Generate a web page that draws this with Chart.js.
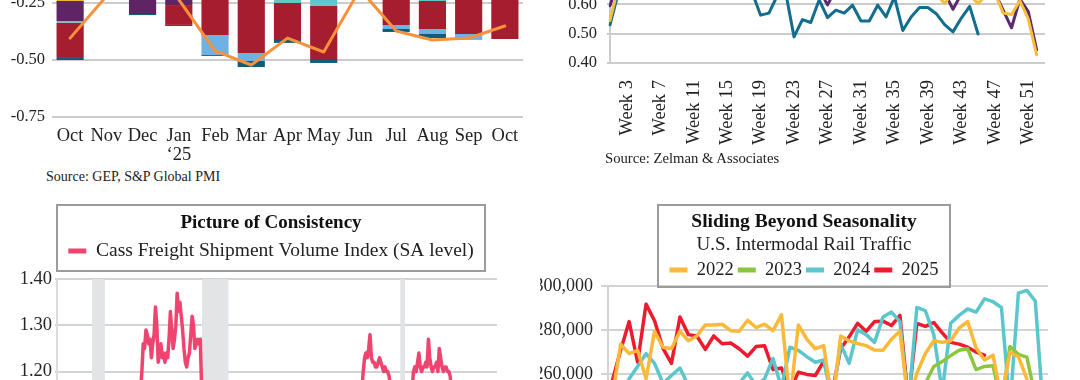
<!DOCTYPE html>
<html><head><meta charset="utf-8"><title>Supply chain and freight charts</title>
<script src="https://cdn.jsdelivr.net/npm/chart.js@4.4.1/dist/chart.umd.min.js"></script>
<style>
html,body{margin:0;padding:0;background:#fff}
body{width:1080px;height:380px;position:relative;overflow:hidden}
.panel{position:absolute;overflow:hidden}
.panel canvas{position:absolute}
.src{position:absolute;font-family:"Liberation Serif","Times New Roman",serif;color:#222;white-space:nowrap;line-height:1}
</style></head><body>
<div class="panel" style="left:0;top:0;width:540px;height:190px"><canvas id="c1" width="540" height="297" style="left:0;top:-130px"></canvas></div>
<div class="panel" style="left:540px;top:0;width:540px;height:190px"><canvas id="c2" width="540" height="233" style="left:0;top:-80px"></canvas></div>
<div class="panel" style="left:0;top:190px;width:540px;height:190px"><canvas id="c3" width="542" height="380" style="left:0;top:0"></canvas></div>
<div class="panel" style="left:540px;top:190px;width:540px;height:190px"><canvas id="c4" width="608" height="380" style="left:-40px;top:0"></canvas></div>
<div class="src" style="left:46px;top:170px;font-size:14px">Source: GEP, S&amp;P Global PMI</div>
<div class="src" style="left:605px;top:150.5px;font-size:14.7px">Source: Zelman &amp; Associates</div>
<script>
// ---------- Panel 1: GEP supply chain volatility (stacked contributions + index) ----------
const gscMonths = ['Oct','Nov','Dec',['Jan','\u201825'],'Feb','Mar','Apr','May','Jun','Jul','Aug','Sep','Oct'];
const gscIndex  = [-0.404,-0.22,-0.14,-0.235,-0.46,-0.522,-0.404,-0.465,-0.19,-0.373,-0.412,-0.404,-0.351];
const segOther  = [-0.241,-0.05,-0.10,-0.06,-0.03,-0.04,-0.05,-0.05,-0.05,-0.03,-0.03,-0.04,-0.04];
const segAsia   = [-0.088,-0.12,-0.198,-0.199,-0.05,-0.06,-0.10,-0.12,-0.05,-0.04,-0.05,-0.06,-0.05];
const segUK     = [-0.007,-0.015,0,0,0,0,-0.10,-0.093,-0.03,-0.02,-0.161,-0.03,-0.03];
const segEurope = [-0.155,-0.02,0,-0.087,-0.31,-0.369,-0.162,-0.237,-0.06,-0.256,-0.123,-0.256,-0.288];
const segNAm    = [0,0,0,0,-0.088,-0.035,0,0,0,-0.018,-0.022,-0.026,0];
const segRest   = [-0.009,-0.005,-0.005,-0.005,-0.004,-0.027,-0.013,-0.013,-0.01,-0.013,-0.018,0,0];

// ---------- Panel 2: Zelman weekly series ----------
const zelWeeks = ['Week 1','Week 2','Week 3','Week 4','Week 5','Week 6','Week 7','Week 8','Week 9','Week 10',
 'Week 11','Week 12','Week 13','Week 14','Week 15','Week 16','Week 17','Week 18','Week 19','Week 20',
 'Week 21','Week 22','Week 23','Week 24','Week 25','Week 26','Week 27','Week 28','Week 29','Week 30',
 'Week 31','Week 32','Week 33','Week 34','Week 35','Week 36','Week 37','Week 38','Week 39','Week 40',
 'Week 41','Week 42','Week 43','Week 44','Week 45','Week 46','Week 47','Week 48','Week 49','Week 50',
 'Week 51','Week 52','Week 53'];
const zel2023 = [0.545,0.66,0.70,0.72,0.71,0.73,0.74,0.72,0.73,0.71,0.72,0.70,0.71,0.69,0.70,0.68,0.69,0.67,0.68,0.66,
 0.67,0.65,0.66,0.64,0.65,0.66,0.64,0.65,0.66,0.64,0.65,0.66,0.64,0.65,0.66,0.64,0.65,0.64,0.63,0.635,
 0.603,0.64,0.65,0.63,0.603,0.63,0.64,0.57,0.565,0.612,0.55,0.428,null];
const zel2024 = [0.595,0.68,0.72,0.74,0.73,0.75,0.74,0.76,0.74,0.73,0.74,0.72,0.73,0.71,0.72,0.70,0.69,0.70,0.68,0.67,
 0.68,0.66,0.65,0.66,0.64,0.65,0.598,0.65,0.66,0.64,0.65,0.66,0.65,0.64,0.66,0.65,0.64,0.65,0.64,0.63,
 0.64,0.583,0.635,0.64,0.65,0.64,0.64,0.58,0.52,0.618,0.575,0.445,null];
const zel2025 = [0.53,0.64,0.68,0.70,0.69,0.72,0.71,0.73,0.70,0.69,0.71,0.70,0.68,0.69,0.67,0.66,0.65,0.64,0.563,0.57,
 0.63,0.64,0.489,0.548,0.538,0.615,0.555,0.58,0.57,0.597,0.543,0.543,0.597,0.557,0.625,0.511,0.557,0.589,0.589,0.568,
 0.531,0.506,0.553,0.593,0.499,null,null,null,null,null,null,null,null];

// ---------- Panel 3: Cass Freight shipments (monthly, Jan 1999 - Dec 2025) ----------
const cassYears = [1999,2000,2001,2002,2003,2004,2005,2006,2007,2008,2009,2010,2011,2012,2013,2014,2015,2016,2017,2018,2019,2020,2021,2022,2023,2024,2025];
const monthAbbr = ['Jan','Feb','Mar','Apr','May','Jun','Jul','Aug','Sep','Oct','Nov','Dec'];
const cassShipments = [
 1.06,1.05,1.08,1.07,1.09,1.08,1.10,1.09,1.11,1.10,1.12,1.11,
 1.12,1.13,1.11,1.14,1.12,1.13,1.10,1.11,1.09,1.08,1.07,1.05,
 1.06,1.04,1.03,1.05,1.02,1.04,1.01,1.03,0.99,1.02,1.00,1.01,
 1.02,1.04,1.03,1.06,1.05,1.07,1.04,1.06,1.08,1.05,1.07,1.06,
 1.07,1.05,1.08,1.09,1.07,1.10,1.09,1.11,1.12,1.14,1.13,1.15,
 1.15,1.16,1.20,1.26,1.25,1.29,1.28,1.26,1.27,1.23,1.26,1.28,
 1.34,1.30,1.22,1.24,1.26,1.23,1.24,1.22,1.24,1.23,1.27,1.33,
 1.29,1.25,1.27,1.30,1.37,1.33,1.35,1.32,1.29,1.25,1.22,1.21,
 1.23,1.24,1.28,1.32,1.30,1.25,1.26,1.27,1.26,1.27,1.16,1.13,
 1.15,1.12,1.14,1.13,1.11,1.12,1.10,1.09,1.06,1.04,1.00,0.97,
 0.95,0.93,0.92,0.91,0.93,0.92,0.94,0.95,0.97,0.96,0.98,0.99,
 1.00,1.02,1.04,1.05,1.06,1.07,1.05,1.06,1.08,1.07,1.06,1.08,
 1.07,1.06,1.09,1.08,1.10,1.09,1.08,1.10,1.11,1.09,1.10,1.11,
 1.09,1.10,1.08,1.11,1.10,1.09,1.08,1.10,1.09,1.11,1.10,1.09,
 1.08,1.10,1.12,1.11,1.13,1.12,1.14,1.13,1.12,1.14,1.15,1.13,
 1.12,1.14,1.15,1.14,1.16,1.15,1.14,1.16,1.15,1.16,1.15,1.14,
 1.14,1.12,1.13,1.11,1.12,1.10,1.11,1.09,1.10,1.08,1.07,1.06,
 1.05,1.07,1.06,1.08,1.07,1.06,1.08,1.07,1.09,1.08,1.10,1.11,
 1.10,1.12,1.11,1.13,1.12,1.14,1.13,1.15,1.16,1.20,1.23,1.24,
 1.23,1.25,1.28,1.23,1.22,1.22,1.21,1.21,1.22,1.23,1.22,1.21,
 1.20,1.21,1.20,1.20,1.19,1.17,1.16,1.15,1.14,1.15,1.13,1.12,
 1.11,1.10,1.02,0.89,0.92,0.99,1.05,1.09,1.13,1.16,1.20,1.21,
 1.20,1.22,1.24,1.21,1.20,1.21,1.21,1.22,1.21,1.27,1.23,1.21,
 1.20,1.21,1.21,1.22,1.20,1.25,1.23,1.21,1.20,1.21,1.21,1.20,
 1.20,1.19,1.16,1.14,1.13,1.12,1.11,1.12,1.10,1.11,1.09,1.08,
 1.07,1.05,1.08,1.06,1.07,1.05,1.06,1.04,1.05,1.03,1.04,1.02,
 1.01,1.00,1.03,1.01,0.99,1.00,0.98,0.99,0.97,0.96,null,null];
const recessions = [['Mar 2001','Nov 2001'],['Dec 2007','Jun 2009'],['Feb 2020','Apr 2020']];

// ---------- Panel 4: U.S. intermodal rail traffic (weekly) ----------
const rail2022 = [250000,273700,269400,270900,258000,279500,272300,271600,279500,275200,277400,282400,282400,282700,279800,279500,284500,281200,282700,279800,
 287000,248000,282400,275900,271600,273000,246000,277400,275200,274000,273000,271000,270900,275900,279500,247000,260500,269400,275200,274500,
 275200,281000,283900,272000,266500,268700,249000,270000,268000,258000,242000,238000];
const rail2023 = [238000,245000,248000,244000,250000,247000,243000,246000,249000,245000,247000,244000,242000,245000,243000,240000,244000,241000,243000,240000,
 242000,232000,241000,243000,240000,242000,230000,244000,246000,248000,247000,250000,249000,251000,253000,238000,252000,256000,263600,265800,
 268500,270900,271600,262200,263600,263900,247000,272600,269100,267800,250000,243000];
const rail2024 = [245000,252000,258000,263600,269400,265000,256000,259500,262900,255000,250000,253000,249000,252000,254000,256000,260700,255000,258000,267200,
 254000,272300,270900,268000,265500,266500,248000,273700,265000,280200,278000,274500,286000,288200,283900,246000,290300,288900,278000,252000,
 283100,286700,289600,288200,294200,292900,290300,245000,296800,298000,293200,240000];
const rail2025 = [257000,271000,283900,265500,291800,284300,271800,265000,286000,278000,277400,271300,277400,273900,274200,271600,268300,272600,273000,262200,
 262900,253000,261000,260000,259500,266000,252000,271600,277000,283100,279500,283900,284100,282100,286700,248000,283100,281700,283500,278800,
 274500,273700,272300,270100,268700,null,null,null,null,null,null,null];

// ---------- shared setup ----------
Chart.defaults.font.family = '"Liberation Serif", "Times New Roman", serif';
Chart.defaults.color = '#262626';
Chart.defaults.animation = false;
Chart.defaults.plugins.tooltip.enabled = false;

const noStroke = (chart) => Chart.defaults.plugins.legend.labels.generateLabels(chart).map(l => Object.assign(l, {lineWidth: 0}));
const framePlugin = {
  id: 'frame',
  afterDraw(chart, args, o) {
    if (!o || !o.display) return;
    const ctx = chart.ctx;
    ctx.save();
    ctx.strokeStyle = o.color; ctx.lineWidth = o.width;
    ctx.strokeRect(o.left, o.top, o.right - o.left, o.bottom - o.top);
    ctx.restore();
  }
};
const lineStyle = {pointRadius: 0, tension: 0, borderJoinStyle: 'round', borderCapStyle: 'round', fill: false};
const spacerAxis = (w) => ({position: 'right', display: true, grid: {display: false, drawTicks: false}, border: {display: false}, ticks: {display: false}, afterFit(s) { s.width = w; }});

// ---------- Chart 1 ----------
new Chart(document.getElementById('c1'), {
  type: 'bar',
  data: {
    labels: gscMonths,
    datasets: [
      Object.assign({type: 'line', label: 'Global Supply Chain Volatility Index', data: gscIndex, borderColor: '#f7923b', backgroundColor: '#f7923b', borderWidth: 3, stack: 'idx', order: 0}, lineStyle),
      {label: 'Other', data: segOther, backgroundColor: '#f3b43a', stack: 'reg', order: 1},
      {label: 'Asia', data: segAsia, backgroundColor: '#5e2466', stack: 'reg', order: 1},
      {label: 'UK', data: segUK, backgroundColor: '#62c6c9', stack: 'reg', order: 1},
      {label: 'Europe', data: segEurope, backgroundColor: '#a51d2f', stack: 'reg', order: 1},
      {label: 'North America', data: segNAm, backgroundColor: '#6fb1e3', stack: 'reg', order: 1},
      {label: 'Rest of World', data: segRest, backgroundColor: '#0e5c7c', stack: 'reg', order: 1}
    ]
  },
  options: {
    responsive: false, animation: false,
    layout: {padding: {top: 19, left: 0, right: 17, bottom: 0}},
    datasets: {bar: {categoryPercentage: 0.75, barPercentage: 1, borderWidth: 0}},
    plugins: {legend: {display: false}},
    scales: {
      x: {stacked: true, offset: true, grid: {display: false}, border: {display: false},
          ticks: {font: {size: 18.5, lineHeight: 1}, padding: 2, color: '#222', maxRotation: 0, autoSkip: false},
          afterFit(s) { s.height = 50; }},
      y: {stacked: true, min: -0.75, max: 0.25,
          ticks: {stepSize: 0.25, font: {size: 16.5}, padding: 7, color: '#222', callback: v => v.toFixed(2)},
          grid: {color: '#cccccc', lineWidth: 2, drawTicks: false}, border: {display: false},
          afterFit(s) { s.width = 52; }}
    }
  }
});

// ---------- Chart 2 ----------
new Chart(document.getElementById('c2'), {
  type: 'line',
  data: {
    labels: zelWeeks,
    datasets: [
      Object.assign({label: '2023', data: zel2023, borderColor: '#f9bd3d', backgroundColor: '#f9bd3d', borderWidth: 3}, lineStyle),
      Object.assign({label: '2024', data: zel2024, borderColor: '#5a2a6c', backgroundColor: '#5a2a6c', borderWidth: 3}, lineStyle),
      Object.assign({label: '2025', data: zel2025, borderColor: '#136d8c', backgroundColor: '#136d8c', borderWidth: 3}, lineStyle)
    ]
  },
  options: {
    responsive: false, animation: false,
    layout: {padding: {top: 25.6, left: 0, right: 35, bottom: 0}},
    plugins: {legend: {display: false}},
    scales: {
      x: {offset: false, grid: {display: false}, border: {display: false},
          ticks: {autoSkip: false, maxRotation: 90, minRotation: 90, font: {size: 18.5}, padding: 9, color: '#222',
                  callback: function(v, i) { return (i - 2) % 4 === 0 ? this.getLabelForValue(v) : ''; }},
          afterFit(s) { s.height = 90; }},
      y: {min: 0.4, max: 0.8,
          ticks: {stepSize: 0.1, font: {size: 16.5}, padding: 10, color: '#222', callback: v => v.toFixed(2)},
          grid: {color: '#cccccc', lineWidth: 2, drawTicks: true, tickLength: 3},
          border: {display: true, color: '#cccccc', width: 2},
          afterFit(s) { s.width = 70; }}
    }
  }
});

// ---------- Chart 3 ----------
const cassLabels = cassYears.flatMap(y => monthAbbr.map(m => m + ' ' + y));
const cassTop = 1.4;
const bandData = cassLabels.map((lab, i) => recessions.some(r => i >= cassLabels.indexOf(r[0]) && i <= cassLabels.indexOf(r[1])) ? cassTop : null);
new Chart(document.getElementById('c3'), {
  type: 'line',
  data: {
    labels: cassLabels,
    datasets: [
      Object.assign({label: 'Cass Freight Shipment Volume Index (SA level)', data: cassShipments, borderColor: '#ef4470', backgroundColor: '#ef4470', borderWidth: 3.5, order: 0}, lineStyle),
      {type: 'bar', label: 'Recession', data: bandData, backgroundColor: '#e3e4e6', borderWidth: 0, barPercentage: 1, categoryPercentage: 1, order: 1}
    ]
  },
  plugins: [framePlugin],
  options: {
    responsive: false, animation: false,
    layout: {padding: {top: 15, left: 0, right: 0, bottom: 3.6}},
    plugins: {
      title: {display: true, text: 'Picture of Consistency', color: '#111', font: {size: 19, weight: 'bold', lineHeight: 1.2}, padding: {top: 6.6, bottom: 2.85}},
      subtitle: {display: true, text: ' ', weight: 500, font: {size: 1, lineHeight: 1}, padding: {top: 7.55, bottom: 0}},
      legend: {display: true, labels: {font: {size: 19.5}, color: '#222', boxWidth: 18, boxHeight: 5, padding: 4, generateLabels: noStroke, filter: it => it.datasetIndex === 0}},
      frame: {display: true, left: 57, top: 15, right: 485, bottom: 81, color: '#9c9c9c', width: 2}
    },
    scales: {
      x: {type: 'category', display: false, offset: true},
      y: {min: 0.8, max: cassTop,
          ticks: {stepSize: 0.1, font: {size: 18.5}, padding: 3, color: '#262626', callback: v => v.toFixed(2)},
          grid: {color: '#d3d3d3', lineWidth: 2, drawTicks: true, tickLength: 2},
          border: {display: true, color: '#dcdcdc', width: 2},
          afterFit(s) { s.width = 57; }},
      yR: spacerAxis(45)
    }
  }
});

// ---------- Chart 4 ----------
new Chart(document.getElementById('c4'), {
  type: 'line',
  data: {
    labels: zelWeeks.slice(0, 52),
    datasets: [
      Object.assign({label: '2022', data: rail2022, borderColor: '#fbb93a', backgroundColor: '#fbb93a', borderWidth: 3.5}, lineStyle),
      Object.assign({label: '2023', data: rail2023, borderColor: '#8cc63e', backgroundColor: '#8cc63e', borderWidth: 3.5}, lineStyle),
      Object.assign({label: '2024', data: rail2024, borderColor: '#5cc6cd', backgroundColor: '#5cc6cd', borderWidth: 3.5}, lineStyle),
      Object.assign({label: '2025', data: rail2025, borderColor: '#ec1c2e', backgroundColor: '#ec1c2e', borderWidth: 3.5}, lineStyle)
    ]
  },
  plugins: [framePlugin],
  options: {
    responsive: false, animation: false,
    layout: {padding: {top: 14, left: 0, right: 0, bottom: 7.1}},
    plugins: {
      title: {display: true, text: 'Sliding Beyond Seasonality', color: '#111', font: {size: 19.5, weight: 'bold', lineHeight: 1.2}, padding: {top: 6, bottom: 0}},
      subtitle: {display: true, text: 'U.S. Intermodal Rail Traffic', color: '#222', font: {size: 19, lineHeight: 1.2}, padding: {top: 0.2, bottom: 0.35}},
      legend: {display: true, maxHeight: 29.25, labels: {font: {size: 18.5}, color: '#222', boxWidth: 18, boxHeight: 5, padding: 4, generateLabels: noStroke}},
      frame: {display: true, left: 158, top: 15, right: 450, bottom: 97, color: '#9c9c9c', width: 2}
    },
    scales: {
      x: {display: false, offset: true},
      y: {min: 180000, max: 300000,
          ticks: {stepSize: 20000, font: {size: 18}, padding: 8, color: '#262626', callback: v => v.toLocaleString('en-US')},
          grid: {color: '#d3d3d3', lineWidth: 2, drawTicks: true, tickLength: 7},
          border: {display: true, color: '#d3d3d3', width: 2},
          afterFit(s) { s.width = 108; }},
      yR: spacerAxis(60)
    }
  }
});
</script>
</body></html>
